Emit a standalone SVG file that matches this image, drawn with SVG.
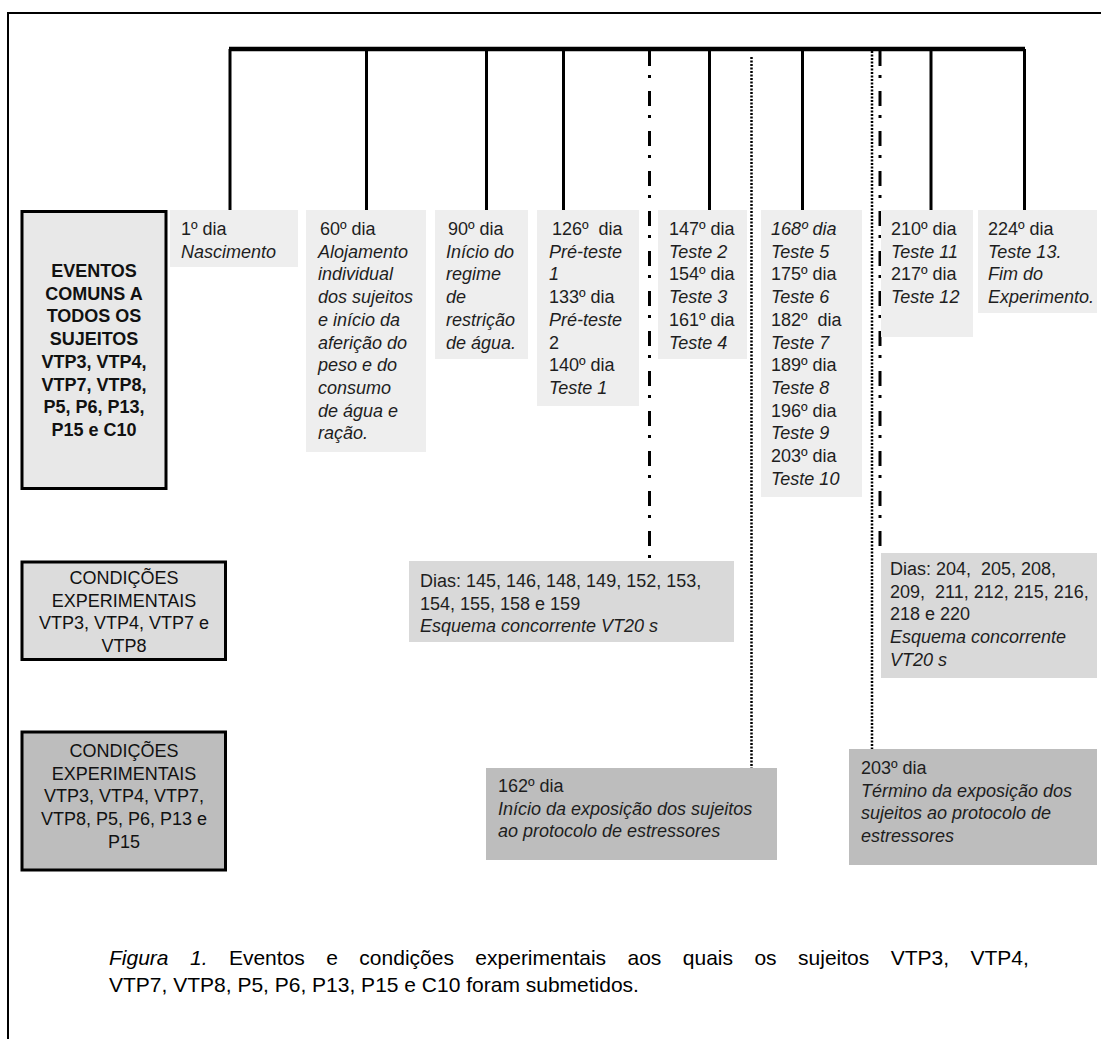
<svg xmlns="http://www.w3.org/2000/svg" width="1101" height="1039" viewBox="0 0 1101 1039">
<style>
.t{font-family:"Liberation Sans",Arial,sans-serif;font-size:18px;fill:#1e1e1e}
.i{font-style:italic}
.h{font-family:"Liberation Sans",Arial,sans-serif;font-size:18px;fill:#111;text-anchor:middle}
.b{font-weight:bold}
.lt{fill:#eeeeee}
.md{fill:#d9d9d9}
.dk{fill:#bdbdbd}
.solid{stroke:#000;stroke-width:3;fill:none}
.dashdot{stroke:#000;stroke-width:3;stroke-dasharray:15 9 3 13;fill:none}
.dot{stroke:#000;stroke-width:2.5;stroke-dasharray:2 1.5;fill:none}
.cap{font-family:"Liberation Sans",Arial,sans-serif;font-size:21px;fill:#000}
</style>
<rect width="1101" height="1039" fill="#fff"/>
<g id="frame">
<line x1="7" y1="13" x2="1101" y2="13" stroke="#000" stroke-width="2"/>
<line x1="8" y1="12" x2="8" y2="1039" stroke="#000" stroke-width="2"/>
</g>
<g id="connectors">
<line x1="229" y1="49" x2="1025" y2="49" stroke="#000" stroke-width="4.5"/>
<line class="solid" x1="230" y1="49" x2="230" y2="210"/>
<line class="solid" x1="366.5" y1="49" x2="366.5" y2="210"/>
<line class="solid" x1="486.5" y1="49" x2="486.5" y2="210"/>
<line class="solid" x1="563.5" y1="49" x2="563.5" y2="210"/>
<line class="solid" x1="709.5" y1="49" x2="709.5" y2="210"/>
<line class="solid" x1="802.5" y1="49" x2="802.5" y2="210"/>
<line class="solid" x1="931" y1="49" x2="931" y2="210"/>
<line class="solid" x1="1024.5" y1="49" x2="1024.5" y2="210"/>
<line class="dashdot" x1="649.5" y1="51" x2="649.5" y2="561"/>
<line class="dashdot" x1="880" y1="51" x2="880" y2="553"/>
<line class="dot" x1="751.5" y1="57" x2="751.5" y2="768"/>
<line class="dot" x1="872" y1="51" x2="872" y2="749"/>
</g>
<g id="n-eventos">
<rect x="22" y="211.5" width="144" height="277" fill="#e8e8e8" stroke="#000" stroke-width="3"/>
<text class="h b" x="94" y="277"><tspan x="94">EVENTOS</tspan><tspan x="94" dy="22.7">COMUNS A</tspan><tspan x="94" dy="22.7">TODOS OS</tspan><tspan x="94" dy="22.7">SUJEITOS</tspan><tspan x="94" dy="22.7">VTP3, VTP4,</tspan><tspan x="94" dy="22.7">VTP7, VTP8,</tspan><tspan x="94" dy="22.7">P5, P6, P13,</tspan><tspan x="94" dy="22.7">P15 e C10</tspan></text>
</g>
<g id="n-cond1">
<rect x="22" y="562" width="203.5" height="97.5" fill="#dcdcdc" stroke="#000" stroke-width="3"/>
<text class="h" x="124" y="584"><tspan x="124">CONDIÇÕES</tspan><tspan x="124" dy="22.7">EXPERIMENTAIS</tspan><tspan x="124" dy="22.7">VTP3, VTP4, VTP7 e</tspan><tspan x="124" dy="22.7">VTP8</tspan></text>
</g>
<g id="n-cond2">
<rect x="22" y="732" width="203.5" height="138" fill="#bdbdbd" stroke="#000" stroke-width="3"/>
<text class="h" x="124" y="757"><tspan x="124">CONDIÇÕES</tspan><tspan x="124" dy="22.7">EXPERIMENTAIS</tspan><tspan x="124" dy="22.7">VTP3, VTP4, VTP7,</tspan><tspan x="124" dy="22.7">VTP8, P5, P6, P13 e</tspan><tspan x="124" dy="22.7">P15</tspan></text>
</g>
<g id="n-d1">
<rect class="lt" x="170" y="210" width="128" height="57"/>
<text class="t" x="181" y="235"><tspan x="181">1º dia</tspan><tspan class="i" x="181" dy="22.7">Nascimento</tspan></text>
</g>
<g id="n-d60">
<rect class="lt" x="306" y="210" width="120" height="242"/>
<text class="t" x="319" y="235"><tspan x="320">60º dia</tspan><tspan class="i" x="318" dy="22.7">Alojamento</tspan><tspan class="i" x="318" dy="22.7">individual</tspan><tspan class="i" x="318" dy="22.7">dos sujeitos</tspan><tspan class="i" x="318" dy="22.7">e início da</tspan><tspan class="i" x="318" dy="22.7">aferição do</tspan><tspan class="i" x="318" dy="22.7">peso e do</tspan><tspan class="i" x="318" dy="22.7">consumo</tspan><tspan class="i" x="318" dy="22.7">de água e</tspan><tspan class="i" x="318" dy="22.7">ração.</tspan></text>
</g>
<g id="n-d90">
<rect class="lt" x="435" y="210" width="93" height="149"/>
<text class="t" x="448" y="235"><tspan x="448">90º dia</tspan><tspan class="i" x="446" dy="22.7">Início do</tspan><tspan class="i" x="446" dy="22.7">regime</tspan><tspan class="i" x="446" dy="22.7">de</tspan><tspan class="i" x="446" dy="22.7">restrição</tspan><tspan class="i" x="446" dy="22.7">de água.</tspan></text>
</g>
<g id="n-d126">
<rect class="lt" x="537" y="210" width="102" height="196"/>
<text class="t" x="552" y="235" xml:space="preserve"><tspan x="552">126º  dia</tspan><tspan class="i" x="549" dy="22.7">Pré-teste</tspan><tspan class="i" x="549" dy="22.7">1</tspan><tspan x="549" dy="22.7">133º dia</tspan><tspan class="i" x="549" dy="22.7">Pré-teste</tspan><tspan x="549" dy="22.7">2</tspan><tspan x="549" dy="22.7">140º dia</tspan><tspan class="i" x="549" dy="22.7">Teste 1</tspan></text>
</g>
<g id="n-d147">
<rect class="lt" x="658" y="210" width="89" height="149"/>
<text class="t" x="669" y="235"><tspan x="669">147º dia</tspan><tspan class="i" x="669" dy="22.7">Teste 2</tspan><tspan x="669" dy="22.7">154º dia</tspan><tspan class="i" x="669" dy="22.7">Teste 3</tspan><tspan x="669" dy="22.7">161º dia</tspan><tspan class="i" x="669" dy="22.7">Teste 4</tspan></text>
</g>
<g id="n-d168">
<rect class="lt" x="761" y="210" width="101" height="287"/>
<text class="t" x="771" y="235" xml:space="preserve"><tspan class="i" x="771">168º dia</tspan><tspan class="i" x="771" dy="22.7">Teste 5</tspan><tspan x="771" dy="22.7">175º dia</tspan><tspan class="i" x="771" dy="22.7">Teste 6</tspan><tspan x="771" dy="22.7">182º  dia</tspan><tspan class="i" x="771" dy="22.7">Teste 7</tspan><tspan x="771" dy="22.7">189º dia</tspan><tspan class="i" x="771" dy="22.7">Teste 8</tspan><tspan x="771" dy="22.7">196º dia</tspan><tspan class="i" x="771" dy="22.7">Teste 9</tspan><tspan x="771" dy="22.7">203º dia</tspan><tspan class="i" x="771" dy="22.7">Teste 10</tspan></text>
</g>
<g id="n-d210">
<rect class="lt" x="881" y="210" width="92" height="127"/>
<text class="t" x="891" y="235"><tspan x="891">210º dia</tspan><tspan class="i" x="891" dy="22.7">Teste 11</tspan><tspan x="891" dy="22.7">217º dia</tspan><tspan class="i" x="891" dy="22.7">Teste 12</tspan></text>
</g>
<g id="n-d224">
<rect class="lt" x="978" y="210" width="119" height="103"/>
<text class="t" x="988" y="235"><tspan x="988">224º dia</tspan><tspan class="i" x="988" dy="22.7">Teste 13.</tspan><tspan class="i" x="988" dy="22.7">Fim do</tspan><tspan class="i" x="988" dy="22.7">Experimento.</tspan></text>
</g>
<g id="n-vt1">
<rect class="md" x="409" y="561" width="325" height="81"/>
<text class="t" x="420" y="587"><tspan x="420">Dias: 145, 146, 148, 149, 152, 153,</tspan><tspan x="420" dy="22.7">154, 155, 158 e 159</tspan><tspan class="i" x="420" dy="22.7">Esquema concorrente VT20 s</tspan></text>
</g>
<g id="n-vt2">
<rect class="md" x="881" y="553" width="216" height="125"/>
<text class="t" x="890" y="575" xml:space="preserve"><tspan x="890">Dias: 204,  205, 208,</tspan><tspan x="890" dy="22.7">209,  211, 212, 215, 216,</tspan><tspan x="890" dy="22.7">218 e 220</tspan><tspan class="i" x="890" dy="22.7">Esquema concorrente</tspan><tspan class="i" x="890" dy="22.7">VT20 s</tspan></text>
</g>
<g id="n-s162">
<rect class="dk" x="486" y="768" width="291" height="92"/>
<text class="t" x="498" y="792"><tspan x="498">162º dia</tspan><tspan class="i" x="498" dy="22.7">Início da exposição dos sujeitos</tspan><tspan class="i" x="498" dy="22.7">ao protocolo de estressores</tspan></text>
</g>
<g id="n-s203">
<rect class="dk" x="849" y="749" width="248" height="116"/>
<text class="t" x="861" y="774"><tspan x="861">203º dia</tspan><tspan class="i" x="861" dy="22.7">Término da exposição dos</tspan><tspan class="i" x="861" dy="22.7">sujeitos ao protocolo de</tspan><tspan class="i" x="861" dy="22.7">estressores</tspan></text>
</g>
<g id="caption">
<text class="cap" x="109" y="965" word-spacing="15.6"><tspan font-style="italic">Figura 1.</tspan> Eventos e condições experimentais aos quais os sujeitos VTP3, VTP4,</text>
<text class="cap" x="109" y="992">VTP7, VTP8, P5, P6, P13, P15 e C10 foram submetidos.</text>
</g>
</svg>
